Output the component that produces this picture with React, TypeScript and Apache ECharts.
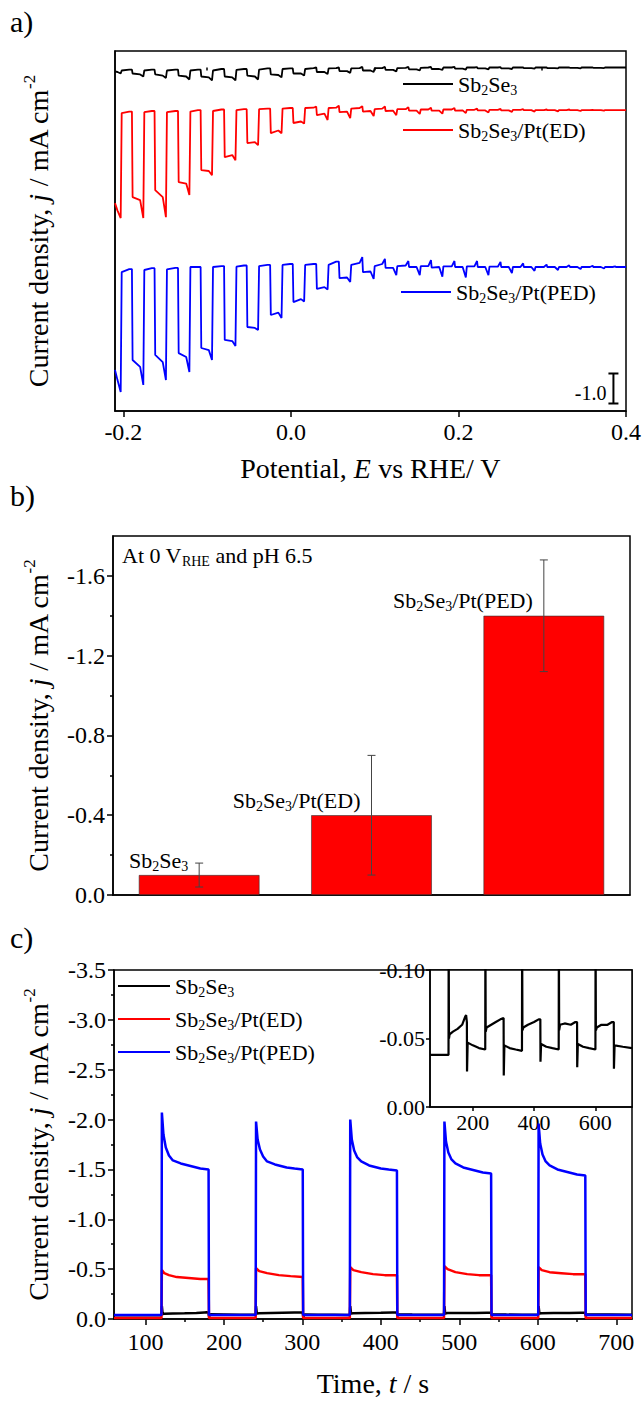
import React, { useEffect, useRef } from "react";
import * as echarts from "echarts";

const FONT = "'Liberation Serif', 'Times New Roman', Times, serif";

// ================= Panel a: chopped-light LSV =================
const lsvMin = -0.21;
const lsvMax = 0.4;
const lsvMajorTicks = [-0.2, 0, 0.2, 0.4];
const lsvMinorTicks = [-0.1, 0.1, 0.3];
// potentials (V vs RHE) where the light is switched off / on
const lightOffE = [-0.202, -0.175, -0.148, -0.12, -0.093, -0.065, -0.038, -0.01, 0.017, 0.045, 0.072, 0.1, 0.127, 0.155, 0.182, 0.21, 0.237, 0.265, 0.292, 0.32, 0.347, 0.375];
const lightOnE = [-0.189, -0.162, -0.134, -0.107, -0.079, -0.052, -0.024, 0.003, 0.031, 0.058, 0.086, 0.113, 0.141, 0.168, 0.196, 0.223, 0.251, 0.278, 0.306, 0.333, 0.361, 0.388];
// vertical offsets of the stacked curves (mA cm-2)
const offsetBlack = 0;
const offsetRed = -1.42;
const offsetBlue = -6.65;
// per chop period: [lightStart, lightEnd, spike, darkStart, darkEnd, bumpAtLightOn]  (mA cm-2)
const teethBlack = [
  [-0.13, -0.15, -0.2, -0.1, -0.07, -0.07],
  [-0.2, -0.23, -0.3, -0.1, -0.07, -0.07],
  [-0.23, -0.27, -0.35, -0.1, -0.07, -0.07],
  [-0.27, -0.3, -0.4, -0.1, -0.07, -0.07],
  [-0.3, -0.33, -0.43, -0.1, -0.05, -0.05],
  [-0.3, -0.33, -0.43, -0.08, -0.05, -0.05],
  [-0.27, -0.3, -0.4, -0.07, -0.03, -0.03],
  [-0.23, -0.25, -0.33, -0.05, -0.03, -0.03],
  [-0.2, -0.2, -0.27, -0.05, -0.02, 0],
  [-0.15, -0.15, -0.22, -0.03, -0.02, 0],
  [-0.12, -0.12, -0.18, -0.03, -0.02, 0.02],
  [-0.1, -0.1, -0.15, -0.02, -0.02, 0.02],
  [-0.08, -0.08, -0.13, -0.02, -0.01, 0.02],
  [-0.06, -0.06, -0.1, -0.01, 0, 0.02],
  [-0.05, -0.05, -0.08, 0, 0, 0.02],
  [-0.04, -0.04, -0.07, 0, 0, 0.01],
  [-0.03, -0.03, -0.06, 0, 0, 0.01],
  [-0.03, -0.03, -0.05, 0, 0, 0],
  [-0.02, -0.02, -0.04, 0, 0, 0],
  [-0.02, -0.02, -0.03, 0, 0, 0],
  [-0.01, -0.01, -0.03, 0, 0, 0],
  [-0.01, -0.01, -0.02, 0, 0, 0],
  [0, 0, 0, 0, 0, 0],
];
const teethRed = [
  [-3.1, -3.35, -3.6, -0.1, -0.05, -0.05],
  [-2.9, -3.0, -3.6, -0.07, -0.03, -0.03],
  [-2.67, -2.9, -3.57, -0.07, -0.03, -0.03],
  [-2.4, -2.45, -2.83, -0.05, 0, 0],
  [-2.0, -2.03, -2.17, -0.03, 0.02, 0.02],
  [-1.57, -1.5, -1.67, 0, 0.03, 0.03],
  [-1.1, -1.07, -1.17, 0.03, 0.05, 0.05],
  [-0.77, -0.68, -0.77, 0.05, 0.07, 0.07],
  [-0.43, -0.38, -0.45, 0.07, 0.08, 0.12],
  [-0.17, -0.12, -0.33, 0.07, 0.08, 0.15],
  [-0.07, -0.05, -0.27, 0.05, 0.07, 0.13],
  [-0.05, -0.03, -0.2, 0.03, 0.05, 0.12],
  [-0.03, -0.02, -0.17, 0.03, 0.03, 0.1],
  [-0.02, -0.02, -0.13, 0.02, 0.02, 0.08],
  [-0.02, -0.02, -0.12, 0.02, 0.02, 0.07],
  [-0.02, -0.01, -0.1, 0.01, 0.01, 0.05],
  [-0.01, -0.01, -0.08, 0.01, 0.01, 0.04],
  [-0.01, -0.01, -0.06, 0.01, 0.01, 0.03],
  [0, 0, -0.05, 0, 0, 0.02],
  [0, 0, -0.04, 0, 0, 0.02],
  [0, 0, -0.03, 0, 0, 0.01],
  [0, 0, -0.02, 0, 0, 0],
  [0, 0, 0, 0, 0, 0],
];
const teethBlue = [
  [-3.43, -3.77, -4.17, -0.17, -0.07, -0.07],
  [-3.1, -3.33, -3.93, -0.1, -0.04, -0.04],
  [-2.93, -3.17, -3.77, -0.08, -0.03, -0.03],
  [-2.87, -3.0, -3.5, 0, 0, 0],
  [-2.7, -2.77, -3.1, 0, 0.03, 0.03],
  [-2.43, -2.47, -2.63, 0.01, 0.05, 0.05],
  [-2.0, -2.03, -2.1, 0.03, 0.07, 0.07],
  [-1.6, -1.52, -1.7, 0.07, 0.1, 0.1],
  [-1.17, -1.07, -1.15, 0.07, 0.1, 0.1],
  [-0.73, -0.67, -0.75, 0.07, 0.18, 0.18],
  [-0.37, -0.35, -0.5, 0.07, 0.14, 0.33],
  [-0.17, -0.15, -0.4, 0.03, 0.1, 0.27],
  [-0.03, -0.03, -0.27, 0.03, 0.05, 0.2],
  [0, 0, -0.27, 0.03, 0.03, 0.23],
  [-0.02, 0, -0.32, 0.02, 0.02, 0.2],
  [0, 0, -0.35, 0.02, 0.02, 0.2],
  [0, 0, -0.27, 0.01, 0.01, 0.17],
  [0, 0, -0.2, 0, 0, 0.12],
  [0, 0, -0.13, 0, 0, 0.08],
  [0, 0, -0.1, 0, 0, 0.06],
  [0, 0, -0.07, 0, 0, 0.04],
  [0, 0, -0.05, 0, 0, 0.02],
  [0, 0, 0, 0, 0, 0],
];
// scale bar (1.0 mA cm-2)
const scaleBarE = 0.385;
const scaleBarTop = -10.2;
const scaleBarSpan = 1.0;
const scaleBarLabel = "-1.0";

// ================= Panel b: bars =================
const barCategories = ["Sb2Se3", "Sb2Se3/Pt(ED)", "Sb2Se3/Pt(PED)"];
const barValues = [-0.1, -0.4, -1.4];
const barErrors = [0.06, 0.3, 0.28];
const barTicks = [-1.6, -1.2, -0.8, -0.4, 0];
const barMinorTicks = [-1.4, -1.0, -0.6, -0.2];

// ================= Panel c: chronoamperometry =================
const caTicks = [100, 200, 300, 400, 500, 600, 700];
const caMinorTicks = [150, 250, 350, 450, 550, 650];
const insetTicks = [200, 400, 600];
const caBlack = [
  [60, -0.038], [120.5, -0.038], [121, -0.13], [122, -0.05], [124, -0.053], [135, -0.055], [150, -0.057], [165, -0.06], [175, -0.066], [178, -0.067], [180.5, -0.062], [181, -0.026], [183, -0.047], [200, -0.045], [220, -0.043], [240.5, -0.042],
  [241, -0.13], [242, -0.055], [245, -0.058], [260, -0.06], [275, -0.062], [290, -0.064], [300.5, -0.065], [301, -0.023], [303, -0.045], [320, -0.043], [340, -0.042], [360.5, -0.041],
  [361, -0.13], [362, -0.056], [365, -0.058], [380, -0.06], [400, -0.062], [415, -0.064], [420.5, -0.064], [421, -0.033], [423, -0.046], [440, -0.044], [460, -0.043], [480.5, -0.042],
  [481, -0.13], [482, -0.056], [485, -0.06], [500, -0.061], [520, -0.06], [535, -0.062], [540.5, -0.062], [541, -0.029], [543, -0.046], [560, -0.044], [580, -0.043], [600.5, -0.042],
  [601, -0.13], [602, -0.056], [605, -0.058], [620, -0.06], [640, -0.06], [655, -0.062], [660.5, -0.062], [661, -0.028], [663, -0.045], [690, -0.044], [720, -0.043],
];
const caRed = [
  [60, -0.01], [120.5, -0.01], [121, -0.49], [124, -0.46], [130, -0.44], [140, -0.42], [155, -0.41], [170, -0.4], [180.5, -0.4], [181, -0.01], [240.5, -0.01],
  [241, -0.51], [245, -0.48], [255, -0.46], [270, -0.44], [285, -0.43], [300.5, -0.42], [301, -0.01], [360.5, -0.01],
  [361, -0.52], [365, -0.49], [375, -0.47], [390, -0.45], [405, -0.44], [420.5, -0.44], [421, -0.01], [480.5, -0.01],
  [481, -0.53], [485, -0.5], [495, -0.47], [510, -0.45], [525, -0.44], [540.5, -0.44], [541, -0.01], [600.5, -0.01],
  [601, -0.52], [605, -0.49], [615, -0.47], [630, -0.46], [645, -0.45], [660.5, -0.45], [661, -0.01], [720, -0.01],
];
const caBlue = [
  [60, -0.04], [120.5, -0.04], [121, -2.07], [123, -1.85], [126, -1.72], [130, -1.64], [135, -1.59], [145, -1.56], [160, -1.53], [170, -1.51], [180.5, -1.5], [181, -0.04], [240.5, -0.04],
  [241, -1.98], [243, -1.8], [246, -1.7], [250, -1.63], [255, -1.58], [265, -1.55], [280, -1.52], [290, -1.51], [300.5, -1.5], [301, -0.04], [360.5, -0.04],
  [361, -2.0], [363, -1.8], [366, -1.69], [370, -1.62], [375, -1.58], [385, -1.54], [400, -1.51], [410, -1.5], [420.5, -1.49], [421, -0.04], [480.5, -0.04],
  [481, -1.98], [483, -1.78], [486, -1.67], [490, -1.6], [495, -1.56], [505, -1.52], [520, -1.49], [530, -1.47], [540.5, -1.46], [541, -0.04], [600.5, -0.04],
  [601, -1.96], [603, -1.76], [606, -1.65], [610, -1.58], [615, -1.54], [625, -1.5], [640, -1.47], [650, -1.45], [660.5, -1.44], [661, -0.04], [720, -0.04],
];

// ---------- helpers ----------
const chem = (s: string) => s.replace(/(\d+)/g, "{sub|$1}");
const richSub = {
  sub: { fontSize: 14, lineHeight: 16, verticalAlign: "bottom", fontFamily: FONT, color: "#000" },
};
const richTitle = {
  it: { fontStyle: "italic", fontSize: 28, fontFamily: FONT, color: "#000" },
  sup: { fontSize: 17, lineHeight: 17, verticalAlign: "top", fontFamily: FONT, color: "#000" },
};

function buildLsv(teeth: number[][], off: number) {
  const pts: number[][] = [];
  for (let k = 0; k < teeth.length; k++) {
    const L0 = k === 0 ? lsvMin : lightOnE[k - 1];
    const hasOff = k < lightOffE.length;
    const L1 = hasOff ? lightOffE[k] : lsvMax;
    const [ls, le, sp, ds, de, bp] = teeth[k];
    pts.push([L0, ls + off]);
    if (hasOff) {
      pts.push([L1 - 0.005, le + off]);
      pts.push([L1 - 0.0012, sp + off]);
      pts.push([L1, ds + off]);
      const D1 = lightOnE[k];
      pts.push([D1 - 0.004, de + off]);
      pts.push([D1 - 0.0008, bp + off]);
    } else {
      pts.push([L1, le + off]);
    }
  }
  return pts;
}

const tickStyle = { color: "#000", width: 1.5 };
const labelBase = { fontFamily: FONT, fontSize: 24, color: "#000" };
const titleStyle = { fontFamily: FONT, fontSize: 28, color: "#000", lineHeight: 34, rich: richTitle };
const yTitle = "Current density, {it|j} / mA cm{sup|-2}";

export default function App() {
  const ref = useRef<HTMLDivElement>(null);
  useEffect(() => {
    if (!ref.current) return;
    const chart = echarts.init(ref.current, null, { renderer: "svg" });
    const legendCommon = {
      icon: "rect",
      itemWidth: 50,
      itemHeight: 2,
      padding: 0,
      formatter: (n: string) => chem(n),
      textStyle: { fontFamily: FONT, fontSize: 22, color: "#000", lineHeight: 26, rich: richSub },
    };
    const errData = barValues.map((v, i) => [i, v - barErrors[i], v + barErrors[i]]);
    const option: any = {
      animation: false,
      backgroundColor: "#fff",
      grid: [
        { left: 115, top: 51, width: 513, height: 360, show: true, borderColor: "#000", borderWidth: 1.5 },
        { left: 113, top: 536, width: 517, height: 359, show: true, borderColor: "#000", borderWidth: 1.5 },
        { left: 114, top: 970, width: 518, height: 357, show: true, borderColor: "#000", borderWidth: 1.5 },
        { left: 430, top: 970, width: 202, height: 137, show: true, borderColor: "#000", borderWidth: 1.5, backgroundColor: "#fff" },
      ],
      xAxis: [
        {
          gridIndex: 0, type: "value", min: lsvMin, max: lsvMax, position: "bottom",
          axisLine: { onZero: false, lineStyle: tickStyle },
          axisTick: { customValues: lsvMajorTicks, length: 6, lineStyle: tickStyle },
          axisLabel: { customValues: lsvMajorTicks, formatter: (v: number) => v.toFixed(1), margin: 9, ...labelBase },
          splitLine: { show: false },
          name: "Potential, {it|E} vs RHE/ V", nameLocation: "middle", nameGap: 40, nameTextStyle: titleStyle,
        },
        {
          gridIndex: 0, type: "value", min: lsvMin, max: lsvMax, position: "bottom",
          axisLine: { show: false }, axisTick: { customValues: lsvMinorTicks, length: 3, lineStyle: tickStyle },
          axisLabel: { show: false }, splitLine: { show: false },
        },
        {
          gridIndex: 1, type: "category", data: barCategories, position: "bottom",
          axisLine: { lineStyle: tickStyle }, axisTick: { show: false }, axisLabel: { show: false },
        },
        {
          gridIndex: 2, type: "value", min: 60, max: 720, position: "bottom",
          axisLine: { onZero: false, lineStyle: tickStyle },
          axisTick: { customValues: caTicks, length: 6, lineStyle: tickStyle },
          axisLabel: { customValues: caTicks, margin: 11, ...labelBase },
          splitLine: { show: false },
          name: "Time, {it|t} / s", nameLocation: "middle", nameGap: 47, nameTextStyle: titleStyle,
        },
        {
          gridIndex: 2, type: "value", min: 60, max: 720, position: "bottom",
          axisLine: { show: false }, axisTick: { customValues: caMinorTicks, length: 3, lineStyle: tickStyle },
          axisLabel: { show: false }, splitLine: { show: false },
        },
        {
          gridIndex: 3, type: "value", min: 60, max: 720, position: "bottom",
          axisLine: { onZero: false, lineStyle: tickStyle },
          axisTick: { customValues: insetTicks, length: 4, lineStyle: tickStyle },
          axisLabel: { customValues: insetTicks, margin: 4, ...labelBase, fontSize: 22 },
          splitLine: { show: false },
        },
      ],
      yAxis: [
        {
          gridIndex: 0, type: "value", min: -11.45, max: 0.55,
          axisLine: { show: true, onZero: false, lineStyle: tickStyle },
          axisTick: { show: false }, axisLabel: { show: false }, splitLine: { show: false },
          name: yTitle, nameLocation: "middle", nameRotate: 90, nameGap: 60, nameTextStyle: titleStyle,
        },
        {
          gridIndex: 1, type: "value", min: -1.8, max: 0, inverse: true, position: "left",
          axisLine: { show: true, onZero: false, lineStyle: tickStyle },
          axisTick: { show: true, customValues: barTicks, length: 6, lineStyle: tickStyle },
          axisLabel: { customValues: barTicks, formatter: (v: number) => v.toFixed(1), margin: 8, ...labelBase },
          splitLine: { show: false },
          name: yTitle, nameLocation: "middle", nameRotate: 90, nameGap: 58, nameTextStyle: titleStyle,
        },
        {
          gridIndex: 1, type: "value", min: -1.8, max: 0, inverse: true, position: "left",
          axisLine: { show: false }, axisTick: { show: true, customValues: barMinorTicks, length: 3, lineStyle: tickStyle },
          axisLabel: { show: false }, splitLine: { show: false },
        },
        {
          gridIndex: 2, type: "value", min: -3.5, max: 0, interval: 0.5, inverse: true,
          axisLine: { show: true, onZero: false, lineStyle: tickStyle },
          axisTick: { show: true, length: 6, lineStyle: tickStyle },
          minorTick: { show: true, splitNumber: 2, length: 3, lineStyle: tickStyle },
          axisLabel: { formatter: (v: number) => v.toFixed(1), margin: 8, ...labelBase },
          splitLine: { show: false },
          name: yTitle, nameLocation: "middle", nameRotate: 90, nameGap: 59, nameTextStyle: titleStyle,
        },
        {
          gridIndex: 3, type: "value", min: -0.1, max: 0, interval: 0.05, inverse: true,
          axisLine: { show: true, onZero: false, lineStyle: tickStyle },
          axisTick: { show: true, length: 4, lineStyle: tickStyle },
          axisLabel: { formatter: (v: number) => v.toFixed(2), margin: 5, ...labelBase, fontSize: 22 },
          splitLine: { show: false },
        },
      ],
      legend: [
        { ...legendCommon, data: ["Sb2Se3"], left: 403, top: 71 },
        { ...legendCommon, data: ["Sb2Se3/Pt(ED)"], left: 403, top: 117 },
        { ...legendCommon, data: ["Sb2Se3/Pt(PED)"], left: 401, top: 279 },
        { ...legendCommon, data: barCategories, orient: "vertical", left: 118, top: 973, itemGap: 7, itemWidth: 52 },
      ],
      graphic: [
        { type: "text", left: 10, top: 6, style: { text: "a)", font: `30px ${FONT}`, fill: "#000" } },
        { type: "text", left: 10, top: 480, style: { text: "b)", font: `30px ${FONT}`, fill: "#000" } },
        { type: "text", left: 10, top: 922, style: { text: "c)", font: `30px ${FONT}`, fill: "#000" } },
        {
          type: "text", left: 122, top: 542,
          style: {
            text: "At 0 V{sub|RHE} and pH 6.5", font: `22px ${FONT}`, fill: "#000", lineHeight: 26,
            rich: { sub: { fontSize: 14, lineHeight: 16, verticalAlign: "bottom", fontFamily: FONT, fill: "#000" } },
          },
        },
      ],
      series: [
        // panel a
        { name: "Sb2Se3", type: "line", xAxisIndex: 0, yAxisIndex: 0, data: buildLsv(teethBlack, offsetBlack), showSymbol: false, lineStyle: { color: "#000", width: 1.8 }, itemStyle: { color: "#000" } },
        { name: "Sb2Se3/Pt(ED)", type: "line", xAxisIndex: 0, yAxisIndex: 0, data: buildLsv(teethRed, offsetRed), showSymbol: false, lineStyle: { color: "#ff0000", width: 1.8 }, itemStyle: { color: "#ff0000" } },
        { name: "Sb2Se3/Pt(PED)", type: "line", xAxisIndex: 0, yAxisIndex: 0, data: buildLsv(teethBlue, offsetBlue), showSymbol: false, lineStyle: { color: "#0000ff", width: 1.8 }, itemStyle: { color: "#0000ff" } },
        {
          type: "custom", xAxisIndex: 0, yAxisIndex: 0, silent: true,
          data: [[scaleBarE, scaleBarTop, scaleBarTop - scaleBarSpan]],
          renderItem: (_p: any, api: any) => {
            const t = api.coord([api.value(0), api.value(1)]);
            const b = api.coord([api.value(0), api.value(2)]);
            const s = { stroke: "#000", lineWidth: 2 };
            return {
              type: "group",
              children: [
                { type: "line", shape: { x1: t[0], y1: t[1], x2: b[0], y2: b[1] }, style: s },
                { type: "line", shape: { x1: t[0] - 5, y1: t[1], x2: t[0] + 5, y2: t[1] }, style: s },
                { type: "line", shape: { x1: b[0] - 5, y1: b[1], x2: b[0] + 5, y2: b[1] }, style: s },
                { type: "text", x: t[0] - 7, y: (t[1] + b[1]) / 2 + 4, style: { text: scaleBarLabel, align: "right", verticalAlign: "middle", font: `20px ${FONT}`, fill: "#000" } },
              ],
            };
          },
        },
        // panel b
        {
          name: "j at 0 V", type: "bar", xAxisIndex: 2, yAxisIndex: 1, data: barValues, barWidth: "70%",
          itemStyle: { color: "#ff0000", borderColor: "#333", borderWidth: 0.6 },
          label: {
            show: true, position: "top", align: "right", offset: [-11, 0], distance: 2,
            formatter: (p: any) => chem(barCategories[p.dataIndex]),
            fontFamily: FONT, fontSize: 22, color: "#000", lineHeight: 26, rich: richSub,
          },
        },
        {
          type: "custom", xAxisIndex: 2, yAxisIndex: 1, data: errData, z: 5, silent: true,
          renderItem: (_p: any, api: any) => {
            const i = api.value(0);
            const lo = api.coord([i, api.value(1)]);
            const hi = api.coord([i, api.value(2)]);
            const s = { stroke: "#444", lineWidth: 1 };
            return {
              type: "group",
              children: [
                { type: "line", shape: { x1: lo[0], y1: lo[1], x2: hi[0], y2: hi[1] }, style: s },
                { type: "line", shape: { x1: lo[0] - 4, y1: lo[1], x2: lo[0] + 4, y2: lo[1] }, style: s },
                { type: "line", shape: { x1: hi[0] - 4, y1: hi[1], x2: hi[0] + 4, y2: hi[1] }, style: s },
              ],
            };
          },
        },
        // panel c
        { name: "Sb2Se3", type: "line", xAxisIndex: 3, yAxisIndex: 3, data: caBlack, showSymbol: false, lineStyle: { color: "#000", width: 2.5 }, itemStyle: { color: "#000" } },
        { name: "Sb2Se3/Pt(ED)", type: "line", xAxisIndex: 3, yAxisIndex: 3, data: caRed, showSymbol: false, lineStyle: { color: "#ff0000", width: 2.5 }, itemStyle: { color: "#ff0000" } },
        { name: "Sb2Se3/Pt(PED)", type: "line", xAxisIndex: 3, yAxisIndex: 3, data: caBlue, showSymbol: false, lineStyle: { color: "#0000ff", width: 2.5 }, itemStyle: { color: "#0000ff" } },
        // inset
        { name: "Sb2Se3", type: "line", xAxisIndex: 5, yAxisIndex: 4, data: caBlack, showSymbol: false, clip: true, lineStyle: { color: "#000", width: 2.2 }, itemStyle: { color: "#000" } },
      ],
    };
    chart.setOption(option);
    return () => chart.dispose();
  }, []);
  return <div ref={ref} style={{ position: "absolute", left: 0, top: 0, width: 644, height: 1401 }} />;
}
